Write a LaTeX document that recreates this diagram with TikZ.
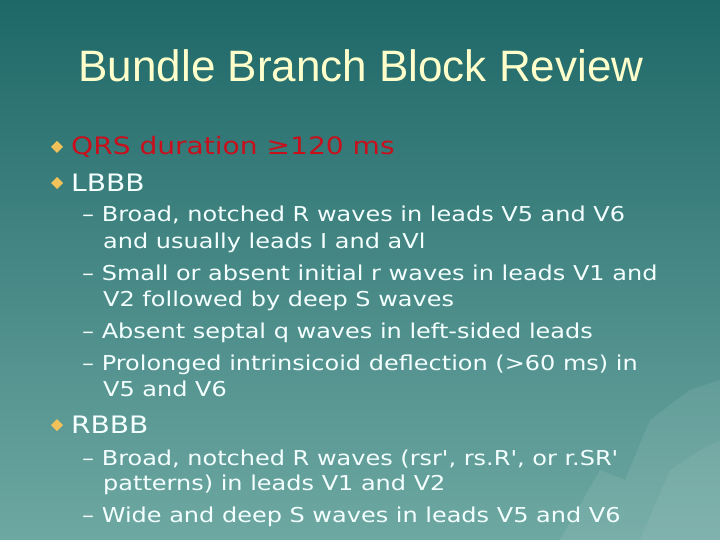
\documentclass[tikz,border=0pt]{standalone}
\usepackage{fontspec}
\setmainfont{DejaVu Sans}[FakeStretch=1.17,Ligatures=TeXOff]
\newfontfamily\titlefont{Liberation Sans}
\definecolor{bgtop}{HTML}{1E6868}
\definecolor{bgbot}{HTML}{6EA8A2}
\definecolor{titlec}{HTML}{FFFFCC}
\definecolor{redc}{HTML}{C8101C}
\definecolor{diam}{HTML}{F2C25A}
\definecolor{txt}{HTML}{F4FFFF}
\begin{document}
\begin{tikzpicture}[x=1pt,y=-1pt,
  lvl1/.style={anchor=base west,inner sep=0pt,font=\fontsize{24}{28}\selectfont,text=txt},
  lvl2/.style={anchor=base west,inner sep=0pt,font=\fontsize{20.5}{26}\selectfont,text=txt,align=left}]
\shade[top color=bgtop,bottom color=bgbot] (0,0) rectangle (720,540);
\useasboundingbox (0,0) rectangle (720,540);
\fill[white,opacity=0.08] (560,540) -- (600,470) -- (625,480) -- (650,420) -- (690,390) -- (720,380) -- (720,540) -- cycle;
\fill[white,opacity=0.06] (640,540) -- (670,470) -- (700,450) -- (720,440) -- (720,540) -- cycle;
\node[anchor=base,inner sep=0pt,text=titlec,font=\titlefont\fontsize{44}{48}\selectfont] (title) at (361,82) {Bundle Branch Block Review};
\fill[diam] (51,147)--(57,141)--(63,147)--(57,153)--cycle;
\node[lvl1,text=redc] (t1) at (71,155) {QRS duration ≥120 ms};
\fill[diam] (51,183)--(57,177)--(63,183)--(57,189)--cycle;
\node[lvl1] (t2) at (71,192) {LBBB};
\node[lvl2] (a1) at (82,222) {– Broad, notched R waves in leads V5 and V6};
\node[lvl2] (a1b) at (103,248) {and usually leads I and aVl};
\node[lvl2] (a2) at (82,280) {– Small or absent initial r waves in leads V1 and};
\node[lvl2] (a2b) at (103,306) {V2 followed by deep S waves};
\node[lvl2] (a3) at (82,338) {– Absent septal q waves in left-sided leads};
\node[lvl2] (a4) at (82,370) {– Prolonged intrinsicoid deflection (>60 ms) in};
\node[lvl2] (a4b) at (103,396) {V5 and V6};
\fill[diam] (51,425)--(57,419)--(63,425)--(57,431)--cycle;
\node[lvl1] (t3) at (71,433) {RBBB};
\node[lvl2] (b1) at (82,465) {– Broad, notched R waves (rsr', rs.R', or r.SR'};
\node[lvl2] (b1b) at (103,490) {patterns) in leads V1 and V2};
\node[lvl2] (b2) at (82,522) {– Wide and deep S waves in leads V5 and V6};
\end{tikzpicture}
\end{document}
